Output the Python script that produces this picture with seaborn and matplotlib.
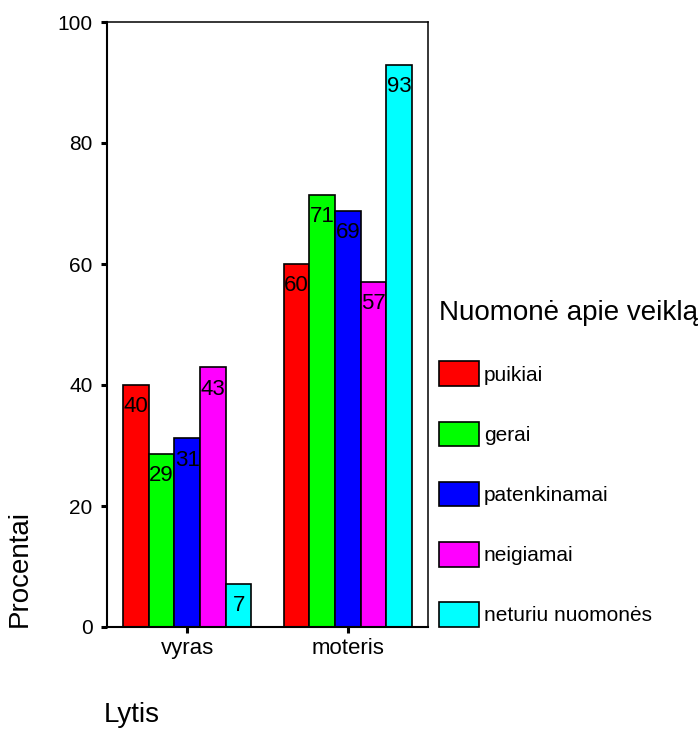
import matplotlib
matplotlib.use("Agg")
import matplotlib.pyplot as plt
import seaborn as sns
import pandas as pd

# Survey results: share of respondents (%) by gender and opinion
categories = ["vyras", "moteris"]
opinions = ["puikiai", "gerai", "patenkinamai", "neigiamai", "neturiu nuomonės"]
vyras_pct = [40.0, 28.6, 31.2, 42.9, 7.1]
moteris_pct = [60.0, 71.4, 68.8, 57.1, 92.9]
y_ticks = [0, 20, 40, 60, 80, 100]
colors = ["#FF0000", "#00FF00", "#0000FF", "#FF00FF", "#00FFFF"]

rows = []
for cat, vals in zip(categories, [vyras_pct, moteris_pct]):
    for op, v in zip(opinions, vals):
        rows.append({"Lytis": cat, "Nuomonė": op, "Procentai": v})
df = pd.DataFrame(rows)

sns.set_style("white")
plt.rcParams["font.family"] = ["Liberation Sans", "DejaVu Sans"]
plt.rcParams.update({"text.color": "black", "axes.labelcolor": "black",
                     "xtick.color": "black", "ytick.color": "black"})

fig = plt.figure(figsize=(7.0, 7.31), dpi=100)
W, H = 700, 731
ax = fig.add_axes([107 / W, (H - 627) / H, (428 - 107) / W, (627 - 22) / H])

sns.barplot(data=df, x="Lytis", y="Procentai", hue="Nuomonė",
            order=categories, hue_order=opinions, palette=colors,
            edgecolor="black", linewidth=1.2, saturation=1, width=0.8,
            errorbar=None, ax=ax)

# value labels just inside the top of every bar
for cont in ax.containers:
    for bar in cont:
        h = bar.get_height()
        ax.annotate(f"{h:.0f}", (bar.get_x() + bar.get_width() / 2, h),
                    xytext=(0, -15.8), textcoords="offset points",
                    ha="center", va="center", fontsize=16, color="black")

ax.set_xlim(-0.5, 1.5)
ax.set_ylim(0, 100)
ax.set_yticks(y_ticks)
ax.set_yticklabels([str(t) for t in y_ticks])

for side in ["left", "bottom"]:
    ax.spines[side].set_linewidth(1.5)
for side in ["top", "right"]:
    ax.spines[side].set_linewidth(1.1)
for s in ax.spines.values():
    s.set_color("black")
    s.set_visible(True)

ax.tick_params(axis="y", direction="out", length=4.5, width=2.2,
               labelsize=15, pad=5.8, colors="black", left=True)
ax.tick_params(axis="x", direction="out", length=4, width=2.2,
               labelsize=16, pad=4.0, colors="black", bottom=True)

ax.set_ylabel("Procentai", fontsize=20, loc="bottom")
ax.yaxis.set_label_coords((33 - 107) / 321, 0)
ax.set_xlabel("Lytis", fontsize=20, loc="left")
ax.xaxis.set_label_coords((104 - 107) / 321, (627 - 702) / 605)

sns.move_legend(ax, "upper left", bbox_to_anchor=(439 / W, (H - 300) / H),
                bbox_transform=fig.transFigure, frameon=False,
                title="Nuomonė apie veiklą", title_fontsize=20, fontsize=15,
                alignment="left", borderpad=0, borderaxespad=0,
                handlelength=1.92, handleheight=1.45, labelspacing=1.70,
                handletextpad=0.24)
leg = ax.get_legend()
leg.get_title().set_color("black")
for t in leg.get_texts():
    t.set_color("black")
for hnd in leg.legend_handles:
    hnd.set_edgecolor("black")
    hnd.set_linewidth(1.2)

fig.savefig("out.png", dpi=100)
